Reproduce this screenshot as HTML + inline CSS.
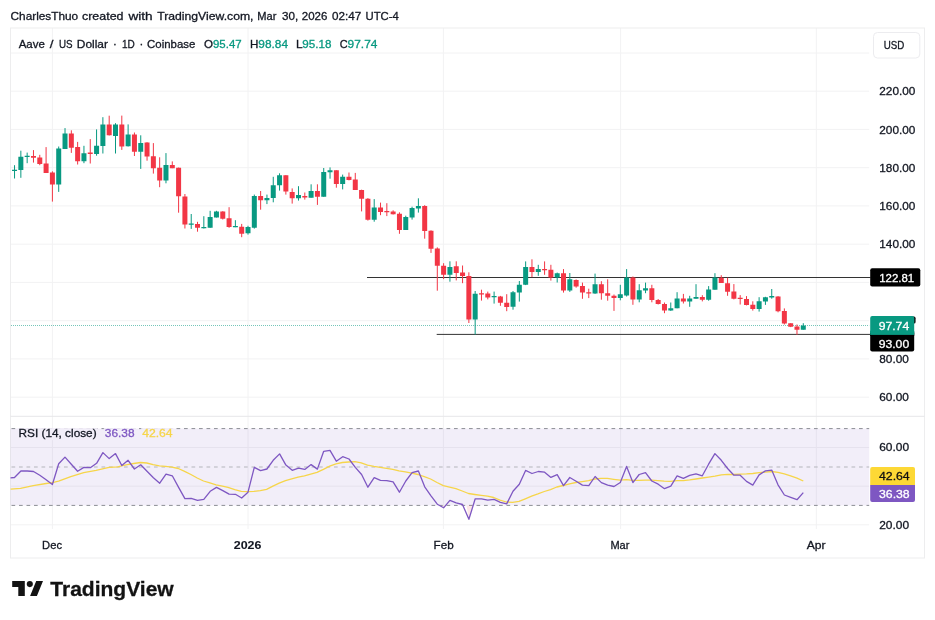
<!DOCTYPE html>
<html lang="en"><head><meta charset="utf-8"><title>AAVEUSD chart</title>
<style>html,body{margin:0;padding:0;background:#fff}body{width:935px;height:620px;position:relative;overflow:hidden;font-family:"Liberation Sans",sans-serif}</style></head>
<body>
<svg width="935" height="620" viewBox="0 0 935 620" style="position:absolute;left:0;top:0">
<path d="M10.5 397.2H869.2M10.5 358.9H869.2M10.5 320.7H869.2M10.5 282.4H869.2M10.5 244.2H869.2M10.5 205.9H869.2M10.5 167.7H869.2M10.5 129.4H869.2M10.5 91.2H869.2M10.5 53.0H869.2M10.5 447.5H869.2M10.5 486.2H869.2M10.5 524.8H869.2M52.4 28V529M248.0 28V529M443.4 28V529M620.6 28V529M816.3 28V529" stroke="#f2f2f3" stroke-width="1" fill="none"/>
<rect x="10.5" y="28" width="914.0" height="530" fill="none" stroke="#ededee" stroke-width="1"/>
<path d="M10.5 416.3H924.5" stroke="#e6e6e9" stroke-width="1"/>
<rect x="10.5" y="428.6" width="858.7" height="76.8" fill="#7E57C2" fill-opacity="0.1"/>
<path d="M11.5 428.6H869.2" stroke="#8b8d94" stroke-width="1" stroke-dasharray="3.7 3.8" fill="none"/>
<path d="M11.5 467.0H869.2" stroke="#b4b5bb" stroke-width="1" stroke-dasharray="3.7 3.8" fill="none"/>
<path d="M11.5 505.4H869.2" stroke="#8b8d94" stroke-width="1" stroke-dasharray="3.7 3.8" fill="none"/>
<path d="M11 325.5H869.2" stroke="#089981" stroke-width="1" stroke-dasharray="1 1" opacity="0.55"/>
<path d="M367 277.5H870.5M436.7 334.4H870.5" stroke="#333" stroke-width="1"/>
<path d="M14.54 165.2V178.5M20.85 150.7V177.8M27.16 152.6V163.2M58.71 146.5V191.9M65.02 128.1V149.0M83.95 145.8V163.2M96.57 129.4V155.7M102.88 117.2V153.5M115.50 123.2V153.5M128.12 124.4V146.5M140.74 135.3V168.9M165.98 153.1V183.3M191.22 214.0V228.9M203.84 216.2V228.5M210.15 210.8V227.8M216.46 210.8V217.5M235.39 220.2V227.2M248.01 225.8V234.6M254.32 194.6V228.6M266.94 194.6V204.1M273.25 176.8V202.3M279.56 173.3V190.6M298.49 186.2V200.6M311.11 184.3V197.7M323.73 168.0V196.8M330.04 167.4V178.7M342.66 174.6V189.4M374.21 199.1V221.7M405.76 215.7V229.9M412.07 206.7V219.6M418.38 198.3V212.6M449.93 261.3V281.7M475.17 291.0V334.6M494.10 291.6V303.6M513.03 291.0V309.7M519.34 281.0V301.6M525.65 261.4V285.1M538.27 264.8V275.8M557.20 272.6V282.5M569.82 273.0V291.9M595.06 273.6V293.9M620.30 284.8V300.3M626.61 269.1V296.5M639.23 284.2V302.3M645.54 282.6V293.2M670.78 302.5V310.9M677.09 292.2V308.3M689.71 295.8V306.8M696.02 284.2V298.8M708.64 286.1V300.7M714.95 273.2V289.7M759.12 297.2V311.6M765.43 296.8V304.9M771.74 289.0V298.7M803.29 323.2V329.7" stroke="#089981" stroke-width="1" fill="none"/>
<path d="M12.04 169.7h5V171.0h-5zM18.35 156.8h5V170.1h-5zM24.66 155.7h5V157.0h-5zM56.21 148.4h5V184.6h-5zM62.52 133.5h5V149.0h-5zM81.45 153.2h5V161.3h-5zM94.07 145.8h5V153.9h-5zM100.38 124.5h5V146.1h-5zM113.00 124.5h5V135.9h-5zM125.62 134.4h5V146.3h-5zM138.24 143.1h5V151.7h-5zM163.48 165.0h5V180.5h-5zM188.72 223.5h5V224.7h-5zM201.34 227.0h5V228.2h-5zM207.65 217.0h5V227.8h-5zM213.96 211.5h5V217.5h-5zM232.89 226.1h5V227.3h-5zM245.51 227.1h5V233.3h-5zM251.82 195.9h5V227.7h-5zM264.44 198.1h5V200.3h-5zM270.75 185.2h5V198.1h-5zM277.06 175.2h5V185.2h-5zM295.99 195.1h5V198.3h-5zM308.61 191.0h5V197.7h-5zM321.23 172.0h5V196.8h-5zM327.54 170.3h5V172.3h-5zM340.16 176.8h5V183.9h-5zM371.71 207.4h5V219.7h-5zM403.26 217.0h5V229.9h-5zM409.57 208.0h5V217.4h-5zM415.88 206.1h5V208.6h-5zM447.43 267.1h5V274.8h-5zM472.67 293.8h5V319.4h-5zM491.60 296.0h5V297.2h-5zM510.53 292.3h5V306.7h-5zM516.84 284.8h5V292.6h-5zM523.15 267.0h5V284.8h-5zM535.77 269.1h5V271.9h-5zM554.70 273.2h5V277.5h-5zM567.32 279.3h5V290.6h-5zM592.56 284.2h5V293.5h-5zM617.80 294.3h5V298.0h-5zM624.11 277.5h5V295.4h-5zM636.73 290.3h5V299.4h-5zM643.04 288.3h5V290.4h-5zM668.28 308.3h5V310.4h-5zM674.59 298.4h5V308.3h-5zM687.21 298.4h5V301.6h-5zM693.52 297.1h5V298.8h-5zM706.14 289.6h5V299.7h-5zM712.45 277.5h5V289.7h-5zM756.62 301.3h5V309.0h-5zM762.93 297.2h5V301.5h-5zM769.24 296.1h5V297.4h-5zM800.79 325.4h5V329.7h-5z" fill="#089981"/>
<path d="M33.47 150.1V162.6M39.78 154.8V165.2M46.09 147.1V172.9M52.40 171.3V201.6M71.33 130.3V152.9M77.64 141.9V164.5M90.26 139.1V163.5M109.19 115.7V135.5M121.81 115.6V149.9M134.43 132.5V156.0M147.05 142.2V160.7M153.36 143.1V173.6M159.67 157.3V187.2M172.29 161.4V168.2M178.60 167.6V212.7M184.91 194.0V228.5M197.53 221.8V231.7M222.77 211.2V219.5M229.08 207.2V227.8M241.70 223.9V237.2M260.63 191.0V209.7M285.87 175.2V194.6M292.18 188.4V203.6M304.80 192.5V199.6M317.42 184.3V204.9M336.35 170.3V187.7M348.97 172.5V180.4M355.28 172.9V189.9M361.59 189.7V211.4M367.90 198.1V220.6M380.52 202.6V215.2M386.83 203.2V216.1M393.14 210.3V214.5M399.45 212.3V233.8M424.69 205.2V238.7M431.00 230.3V252.9M437.31 247.4V290.7M443.62 263.2V279.1M456.24 261.3V280.4M462.55 265.5V283.2M468.86 272.3V323.0M481.48 289.7V300.6M487.79 291.6V299.4M500.41 295.9V305.8M506.72 294.2V311.2M531.96 259.3V277.1M544.58 261.4V274.8M550.89 264.8V280.6M563.51 269.1V292.6M576.13 279.4V287.7M582.44 282.6V298.8M588.75 288.7V298.1M601.37 281.2V299.7M607.68 279.3V300.7M613.99 294.5V310.9M632.92 276.5V304.8M651.85 284.8V302.3M658.16 299.0V304.5M664.47 302.5V313.2M683.40 293.9V303.5M702.33 295.2V301.4M721.26 275.2V282.9M727.57 277.7V295.8M733.88 284.1V299.4M740.19 295.1V304.5M746.50 296.1V305.4M752.81 301.3V310.6M778.05 296.1V312.3M784.36 308.4V324.5M790.67 323.2V327.1M796.98 324.5V334.8" stroke="#F23645" stroke-width="1" fill="none"/>
<path d="M30.97 155.9h5V157.8h-5zM37.28 157.4h5V163.9h-5zM43.59 163.5h5V172.9h-5zM49.90 172.6h5V184.6h-5zM68.83 133.5h5V147.7h-5zM75.14 147.1h5V161.3h-5zM87.76 152.6h5V153.9h-5zM106.69 124.5h5V135.2h-5zM119.31 124.6h5V146.5h-5zM131.93 134.4h5V151.7h-5zM144.55 142.4h5V156.6h-5zM150.86 156.2h5V168.2h-5zM157.17 167.8h5V180.5h-5zM169.79 165.0h5V168.2h-5zM176.10 167.8h5V196.2h-5zM182.41 196.4h5V224.4h-5zM195.03 224.1h5V227.8h-5zM220.27 211.5h5V218.8h-5zM226.58 218.2h5V226.9h-5zM239.20 226.7h5V233.8h-5zM258.13 196.1h5V200.3h-5zM283.37 175.2h5V191.6h-5zM289.68 191.9h5V198.3h-5zM302.30 196.1h5V197.4h-5zM314.92 191.0h5V196.8h-5zM333.85 170.3h5V183.9h-5zM346.47 176.8h5V180.0h-5zM352.78 179.4h5V189.9h-5zM359.09 189.9h5V198.7h-5zM365.40 198.7h5V219.7h-5zM378.02 207.4h5V212.0h-5zM384.33 211.1h5V212.3h-5zM390.64 211.6h5V214.2h-5zM396.95 213.8h5V229.9h-5zM422.19 206.1h5V231.0h-5zM428.50 230.7h5V248.8h-5zM434.81 248.4h5V265.8h-5zM441.12 265.8h5V274.8h-5zM453.74 266.2h5V272.9h-5zM460.05 272.5h5V276.1h-5zM466.36 276.1h5V319.4h-5zM478.98 293.3h5V294.6h-5zM485.29 293.5h5V297.4h-5zM497.91 296.5h5V302.8h-5zM504.22 302.8h5V307.1h-5zM529.46 267.0h5V271.9h-5zM542.08 269.0h5V270.3h-5zM548.39 269.7h5V277.5h-5zM561.01 273.2h5V290.6h-5zM573.63 279.9h5V286.5h-5zM579.94 286.1h5V292.6h-5zM586.25 292.2h5V293.5h-5zM598.87 284.2h5V293.2h-5zM605.18 293.2h5V295.8h-5zM611.49 295.8h5V298.0h-5zM630.42 277.5h5V299.4h-5zM649.35 288.3h5V300.1h-5zM655.66 300.1h5V303.9h-5zM661.97 303.9h5V310.4h-5zM680.90 298.4h5V301.6h-5zM699.83 297.1h5V299.7h-5zM718.76 277.7h5V282.9h-5zM725.07 283.3h5V291.7h-5zM731.38 291.6h5V298.7h-5zM737.69 297.8h5V299.1h-5zM744.00 299.1h5V304.9h-5zM750.31 304.8h5V309.0h-5zM775.55 296.5h5V311.2h-5zM781.86 311.0h5V323.6h-5zM788.17 323.2h5V326.8h-5zM794.48 326.5h5V329.7h-5z" fill="#F23645"/>
<path d="M442 505.4L443.4 507.8L446 505.4zM466.5 505.4L468.9 519.3L472.5 505.4z" fill="#F23645" fill-opacity="0.12"/>
<polyline points="10.6,489.1 20.5,488.3 33.3,485.7 46.1,483.5 52.4,482.6 58.6,481.2 70.8,476.7 83.7,472.6 96.1,470.3 109.0,467.4 118.0,466.8 121.5,465.9 127.3,464.6 133.7,463.5 140.6,462.5 146.8,463.0 153.1,464.6 159.3,465.9 165.6,466.4 171.9,467.2 178.3,468.5 184.6,471.3 190.9,474.5 197.2,478.0 203.5,481.0 209.9,482.9 216.1,484.8 222.4,486.1 228.0,487.4 234.8,489.6 241.3,491.3 247.6,491.7 253.9,491.3 260.3,490.6 266.6,489.4 272.9,486.1 279.2,483.2 285.5,480.7 291.7,478.8 298.1,477.1 304.4,475.8 310.7,474.1 317.0,472.3 323.4,469.4 329.7,466.1 336.0,463.8 342.3,462.5 348.6,462.0 354.9,461.6 361.2,462.9 367.5,465.1 373.9,466.4 380.2,467.4 386.5,468.3 392.8,469.4 399.0,470.9 405.4,471.9 411.7,473.2 418.0,474.5 424.3,476.7 430.6,479.0 437.0,482.5 443.3,485.7 449.5,487.2 455.9,488.7 462.2,491.0 468.5,493.5 474.8,494.5 481.2,495.4 487.5,496.2 493.7,497.5 500.0,500.1 506.3,502.0 512.6,502.3 519.0,501.4 525.3,498.8 531.6,496.1 537.9,493.9 544.3,491.5 550.5,489.6 556.8,487.0 563.3,485.5 569.6,483.8 575.9,482.5 582.3,481.6 588.6,480.6 594.8,479.0 601.1,478.4 607.4,478.4 613.7,479.3 620.1,480.1 626.4,479.7 632.7,480.3 639.0,480.3 645.4,480.1 651.5,480.1 657.9,480.7 664.2,481.2 670.7,481.3 677.0,480.7 683.4,480.6 689.7,479.9 696.0,479.0 702.3,478.0 708.6,477.1 715.0,476.2 721.3,474.8 727.6,474.3 733.9,474.5 740.1,474.1 746.5,473.9 752.8,473.5 759.1,472.6 765.4,472.1 771.7,471.5 778.0,472.3 784.3,473.9 790.6,475.8 797.0,478.1 803.3,481.0" fill="none" stroke="#F6D54A" stroke-width="1.3" stroke-linejoin="round"/>
<polyline points="10.5,477.8 14.5,477.5 20.9,471.0 27.2,471.0 33.5,471.5 39.8,475.2 46.1,479.7 52.4,484.5 58.7,463.8 65.0,457.1 71.3,464.2 77.6,471.3 83.9,467.4 90.3,467.7 96.6,463.3 102.9,452.6 109.2,458.6 115.5,453.6 121.8,465.5 128.1,460.3 134.4,469.0 140.7,464.8 147.0,471.3 153.4,477.7 159.7,483.2 166.0,474.1 172.3,475.8 178.6,487.4 184.9,498.6 191.2,498.4 197.5,500.3 203.8,499.4 210.2,491.3 216.5,487.4 222.8,490.6 229.1,494.1 235.4,494.3 241.7,498.0 248.0,492.2 254.3,467.4 260.6,470.6 266.9,469.0 273.2,460.3 279.6,453.9 285.9,465.1 292.2,470.3 298.5,468.1 304.8,469.4 311.1,464.6 317.4,469.1 323.7,451.3 330.0,450.3 336.3,461.2 342.7,456.7 349.0,459.0 355.3,467.4 361.6,474.5 367.9,487.2 374.2,477.7 380.5,480.3 386.8,480.6 393.1,481.9 399.4,492.2 405.8,481.0 412.1,472.6 418.4,471.0 424.7,486.8 431.0,495.8 437.3,504.2 443.6,507.8 449.9,500.3 456.2,502.9 462.5,504.5 468.9,519.3 475.2,498.8 481.5,498.8 487.8,500.1 494.1,499.4 500.4,502.3 506.7,503.9 513.0,491.3 519.3,484.2 525.6,470.4 532.0,473.5 538.3,471.5 544.6,472.2 550.9,477.4 557.2,474.6 563.5,485.6 569.8,477.5 576.1,481.2 582.4,485.1 588.8,485.7 595.1,476.5 601.4,482.6 607.7,485.2 614.0,486.5 620.3,482.5 626.6,466.4 632.9,482.6 639.2,474.5 645.5,472.6 651.8,481.0 658.2,484.2 664.5,488.7 670.8,486.1 677.1,475.8 683.4,478.4 689.7,475.4 696.0,473.9 702.3,475.8 708.6,464.2 714.9,453.6 721.3,460.3 727.6,468.5 733.9,475.2 740.2,475.2 746.5,481.4 752.8,485.1 759.1,474.9 765.4,470.9 771.7,470.1 778.0,484.8 784.4,495.0 790.7,497.4 797.0,499.7 803.3,492.6" fill="none" stroke="#7E57C2" stroke-width="1.3" stroke-linejoin="round"/>
<text y="19.9" font-size="11.4" fill="#131722" stroke="#131722" stroke-width="0.3" font-family="Liberation Sans, sans-serif"><tspan x="10.6" textLength="67.6" lengthAdjust="spacingAndGlyphs">CharlesThuo</tspan> <tspan x="82.0" textLength="41.5" lengthAdjust="spacingAndGlyphs">created</tspan> <tspan x="128.5" textLength="24.2" lengthAdjust="spacingAndGlyphs">with</tspan> <tspan x="157.2" textLength="96.3" lengthAdjust="spacingAndGlyphs">TradingView.com,</tspan> <tspan x="257.3" textLength="19.1" lengthAdjust="spacingAndGlyphs">Mar</tspan> <tspan x="282.0" textLength="16.2" lengthAdjust="spacingAndGlyphs">30,</tspan> <tspan x="301.8" textLength="25.6" lengthAdjust="spacingAndGlyphs">2026</tspan> <tspan x="332.1" textLength="29.2" lengthAdjust="spacingAndGlyphs">02:47</tspan> <tspan x="365.5" textLength="33.3" lengthAdjust="spacingAndGlyphs">UTC-4</tspan></text>
<text y="47.8" font-size="11.4" fill="#131722" stroke="#131722" stroke-width="0.3" font-family="Liberation Sans, sans-serif"><tspan x="18.7" textLength="26.2" lengthAdjust="spacingAndGlyphs">Aave</tspan> <tspan x="49.8" textLength="3.7" lengthAdjust="spacingAndGlyphs">/</tspan> <tspan x="59.0" textLength="13.6" lengthAdjust="spacingAndGlyphs">US</tspan> <tspan x="76.8" textLength="31.2" lengthAdjust="spacingAndGlyphs">Dollar</tspan> <tspan x="113.0">·</tspan> <tspan x="122.0" textLength="12.8" lengthAdjust="spacingAndGlyphs">1D</tspan> <tspan x="139.5">·</tspan> <tspan x="147.1" textLength="48.3" lengthAdjust="spacingAndGlyphs">Coinbase</tspan></text>
<text y="47.8" font-size="11.4" fill="#131722" stroke="#131722" stroke-width="0.3" font-family="Liberation Sans, sans-serif"><tspan x="204.0" textLength="9.0" lengthAdjust="spacingAndGlyphs">O</tspan> <tspan x="213.0" textLength="28.6" lengthAdjust="spacingAndGlyphs" fill="#089981" stroke="#089981">95.47</tspan></text>
<text y="47.8" font-size="11.4" fill="#131722" stroke="#131722" stroke-width="0.3" font-family="Liberation Sans, sans-serif"><tspan x="249.9" textLength="8.4" lengthAdjust="spacingAndGlyphs">H</tspan> <tspan x="258.3" textLength="29.7" lengthAdjust="spacingAndGlyphs" fill="#089981" stroke="#089981">98.84</tspan></text>
<text y="47.8" font-size="11.4" fill="#131722" stroke="#131722" stroke-width="0.3" font-family="Liberation Sans, sans-serif"><tspan x="296.1" textLength="6.2" lengthAdjust="spacingAndGlyphs">L</tspan> <tspan x="302.3" textLength="29.1" lengthAdjust="spacingAndGlyphs" fill="#089981" stroke="#089981">95.18</tspan></text>
<text y="47.8" font-size="11.4" fill="#131722" stroke="#131722" stroke-width="0.3" font-family="Liberation Sans, sans-serif"><tspan x="339.7" textLength="7.9" lengthAdjust="spacingAndGlyphs">C</tspan> <tspan x="347.6" textLength="29.8" lengthAdjust="spacingAndGlyphs" fill="#089981" stroke="#089981">97.74</tspan></text>
<rect x="873.5" y="32.5" width="46.3" height="25.5" rx="4" fill="#fff" stroke="#ececef" stroke-width="1"/>
<text x="883.7" y="49.1" font-size="11.4" fill="#131722" textLength="20.6" lengthAdjust="spacingAndGlyphs" stroke="#131722" stroke-width="0.3" font-family="Liberation Sans, sans-serif">USD</text>
<text x="879.3" y="95.3" font-size="11.4" fill="#131722" textLength="36.1" lengthAdjust="spacingAndGlyphs" stroke="#131722" stroke-width="0.3" font-family="Liberation Sans, sans-serif">220.00</text>
<text x="879.3" y="133.5" font-size="11.4" fill="#131722" textLength="36.1" lengthAdjust="spacingAndGlyphs" stroke="#131722" stroke-width="0.3" font-family="Liberation Sans, sans-serif">200.00</text>
<text x="879.3" y="171.8" font-size="11.4" fill="#131722" textLength="36.1" lengthAdjust="spacingAndGlyphs" stroke="#131722" stroke-width="0.3" font-family="Liberation Sans, sans-serif">180.00</text>
<text x="879.3" y="210.0" font-size="11.4" fill="#131722" textLength="36.1" lengthAdjust="spacingAndGlyphs" stroke="#131722" stroke-width="0.3" font-family="Liberation Sans, sans-serif">160.00</text>
<text x="879.3" y="248.3" font-size="11.4" fill="#131722" textLength="36.1" lengthAdjust="spacingAndGlyphs" stroke="#131722" stroke-width="0.3" font-family="Liberation Sans, sans-serif">140.00</text>
<text x="879.3" y="363.1" font-size="11.4" fill="#131722" textLength="29.6" lengthAdjust="spacingAndGlyphs" stroke="#131722" stroke-width="0.3" font-family="Liberation Sans, sans-serif">80.00</text>
<text x="879.3" y="401.3" font-size="11.4" fill="#131722" textLength="29.6" lengthAdjust="spacingAndGlyphs" stroke="#131722" stroke-width="0.3" font-family="Liberation Sans, sans-serif">60.00</text>
<text x="879.2" y="451.1" font-size="11.4" fill="#131722" textLength="29.9" lengthAdjust="spacingAndGlyphs" stroke="#131722" stroke-width="0.3" font-family="Liberation Sans, sans-serif">60.00</text>
<text x="879.2" y="528.9" font-size="11.4" fill="#131722" textLength="29.9" lengthAdjust="spacingAndGlyphs" stroke="#131722" stroke-width="0.3" font-family="Liberation Sans, sans-serif">20.00</text>
<rect x="911" y="316.6" width="4.6" height="7" rx="1.6" fill="#111"/>
<rect x="870.2" y="268.2" width="50.1" height="18.2" rx="2" fill="#000"/>
<text x="879.2" y="281.6" font-size="11.4" fill="#fff" textLength="35.0" lengthAdjust="spacingAndGlyphs" stroke="#fff" stroke-width="0.3" font-family="Liberation Sans, sans-serif">122.81</text>
<rect x="870.2" y="330" width="44" height="21.4" rx="2" fill="#000"/>
<rect x="870.2" y="316" width="44" height="18.9" rx="2" fill="#089981"/>
<rect x="870.2" y="333" width="44" height="3" fill="#000"/>
<rect x="870.2" y="331" width="44" height="3.9" fill="#089981"/>
<text x="878.7" y="329.7" font-size="11.4" fill="#fff" textLength="30.5" lengthAdjust="spacingAndGlyphs" stroke="#fff" stroke-width="0.3" font-family="Liberation Sans, sans-serif">97.74</text>
<text x="878.7" y="347.5" font-size="11.4" fill="#fff" textLength="30.5" lengthAdjust="spacingAndGlyphs" stroke="#fff" stroke-width="0.3" font-family="Liberation Sans, sans-serif">93.00</text>
<path d="M872.2 466.9h40.8q2 0 2 2v16.2h-44.8v-16.2q0-2 2-2z" fill="#FDD835"/>
<text x="879.0" y="480.3" font-size="11.4" fill="#111" textLength="30.7" lengthAdjust="spacingAndGlyphs" stroke="#111" stroke-width="0.3" font-family="Liberation Sans, sans-serif">42.64</text>
<path d="M870.2 485.1h44.8v14.8q0 2-2 2h-40.8q-2 0-2-2z" fill="#7E57C2"/>
<text x="879.0" y="497.7" font-size="11.4" fill="#fff" textLength="30.7" lengthAdjust="spacingAndGlyphs" stroke="#fff" stroke-width="0.3" font-family="Liberation Sans, sans-serif">36.38</text>
<rect x="17.6" y="428.1" width="80.0" height="12" fill="#f2eef9"/>
<rect x="103.8" y="428.1" width="31.7" height="12" fill="#f2eef9"/>
<rect x="141.2" y="428.1" width="32.4" height="12" fill="#f2eef9"/>
<text x="18.6" y="436.5" font-size="11.4" fill="#131722" textLength="78.0" lengthAdjust="spacingAndGlyphs" stroke="#131722" stroke-width="0.3" font-family="Liberation Sans, sans-serif">RSI (14, close)</text>
<text x="104.8" y="436.5" font-size="11.4" fill="#7E57C2" textLength="29.7" lengthAdjust="spacingAndGlyphs" stroke="#7E57C2" stroke-width="0.3" font-family="Liberation Sans, sans-serif">36.38</text>
<text x="142.2" y="436.5" font-size="11.4" fill="#F6D54A" textLength="30.4" lengthAdjust="spacingAndGlyphs" stroke="#F6D54A" stroke-width="0.3" font-family="Liberation Sans, sans-serif">42.64</text>
<text x="42.1" y="549.0" font-size="11.4" fill="#131722" textLength="19.9" lengthAdjust="spacingAndGlyphs" stroke="#131722" stroke-width="0.3" font-family="Liberation Sans, sans-serif">Dec</text>
<text x="233.8" y="549.0" font-size="11.4" fill="#131722" textLength="27.6" lengthAdjust="spacingAndGlyphs" font-weight="bold" stroke="#131722" stroke-width="0.1" font-family="Liberation Sans, sans-serif">2026</text>
<text x="433.6" y="549.0" font-size="11.4" fill="#131722" textLength="20.1" lengthAdjust="spacingAndGlyphs" stroke="#131722" stroke-width="0.3" font-family="Liberation Sans, sans-serif">Feb</text>
<text x="610.4" y="549.0" font-size="11.4" fill="#131722" textLength="19.0" lengthAdjust="spacingAndGlyphs" stroke="#131722" stroke-width="0.3" font-family="Liberation Sans, sans-serif">Mar</text>
<text x="806.7" y="549.0" font-size="11.4" fill="#131722" textLength="18.9" lengthAdjust="spacingAndGlyphs" stroke="#131722" stroke-width="0.3" font-family="Liberation Sans, sans-serif">Apr</text>
<path d="M12.2 581.1H24.8V596.05H18.3V586.9H12.2ZM36.2 581.1H43L36.9 596.05H30.1Z" fill="#131313"/><circle cx="29.8" cy="584.1" r="3.05" fill="#131313"/>
<text x="50.3" y="595.9" font-size="20.4" fill="#131313" textLength="123.4" lengthAdjust="spacingAndGlyphs" font-weight="bold" stroke="#131313" stroke-width="0.3" font-family="Liberation Sans, sans-serif">TradingView</text>
</svg>
</body></html>
